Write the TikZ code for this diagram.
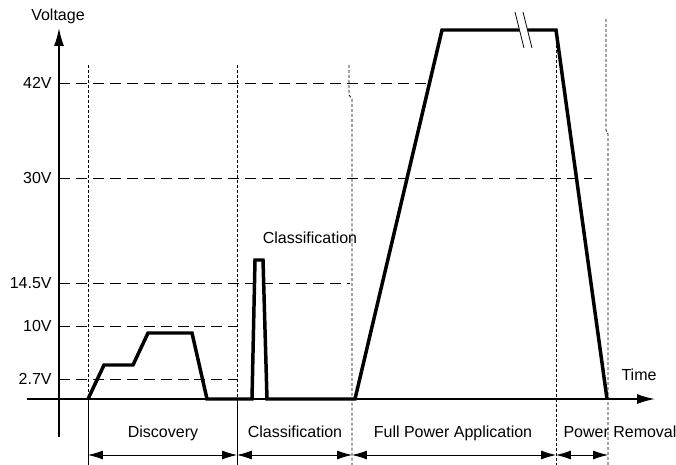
\documentclass[tikz,border=0pt]{standalone}
\usepackage{fontspec}
\setmainfont{Liberation Sans}
\usetikzlibrary{arrows.meta}
\usetikzlibrary{positioning}

\begin{document}
\begin{tikzpicture}[black, line width = 0.8pt, x = 1bp, y = -1bp,
    font = \fontsize{16bp}{19bp}\selectfont,
    level/.style = {dash pattern = on 11pt off 6pt},
    phase/.style = {dash pattern = on 3pt off 2pt, line width = 0.8pt},
    wave/.style = {line width = 3.5pt, line join = miter},
    span/.style = {{Latex[length = 15pt, width = 9pt]}-{Latex[length = 15pt, width = 9pt]}},
    axis/.style = {line width = 1.6pt, -{Latex[length = 18pt, width = 10pt]}},
    label/.style = {anchor = base, inner sep = 0pt}]

    \useasboundingbox (0,0) rectangle (676,465);

    \def\Xaxis{399}
    \def\Yaxis{59}

    % axes
    \coordinate (O) at (\Yaxis,\Xaxis);
    \coordinate (Ybot) at (\Yaxis,437);
    \coordinate (Ytop) at (\Yaxis,28);
    \coordinate (Xleft) at (27,\Xaxis);
    \coordinate (Xright) at (655,\Xaxis);
    \draw[axis] (Ybot) -- (Ytop);
    \draw[axis] (Xleft) -- (Xright);
    \node[label] (voltage) at (58,21) {Voltage};
    \node[label] (time) at (639,380) {Time};

    % voltage levels
    \foreach \name/\lab/\yy/\xend in {l42/42V/83/428, l30/30V/178/592,
            l14/14.5V/283/350, l10/10V/326/237, l3/2.7V/379/237} {
        \node[anchor = base east, inner sep = 0pt] (\name) at (52,\yy+5.5) {\lab};
        \coordinate (\name end) at (\xend,\yy);
        \draw[level] (\Yaxis,\yy) -- (\name end);
    }

    % phases
    \foreach \name/\xx/\ytop in {p0/88/65, p1/237/65, p2/352/65, p3/556/30, p4/608/19} {
        \coordinate (\name top) at (\xx,\ytop);
        \coordinate (\name) at (\xx,\Xaxis);
        \coordinate (\name bot) at (\xx,465);
        \coordinate (\name arr) at (\xx,455);
    }
    \draw[phase] (p0top) -- (p0);
    \draw[phase] (p1top) -- (p1);
    \draw[phase] ([xshift = -3]p2top) -- ++(0,30) -- ++(3,4) -- (p2bot);
    \draw[phase] (p3top) -- (p3bot);
    \draw[phase] ([xshift = -2]p4top) -- ++(0,111) -- ++(2,4) -- (p4bot);
    \draw (p0) -- (p0bot);
    \draw (p1) -- (p1bot);

    \draw[span] (p0arr) -- (p1arr);
    \draw[span] (p1arr) -- (p2arr);
    \draw[span] (p2arr) -- (p3arr);
    \draw[span] (p3arr) -- (p4arr);

    \node[label] (discovery) at (163,437) {Discovery};
    \node[label] (classif) at (295,437) {Classification};
    \node[label] (fullpower) at (453,437) {Full Power Application};
    \node[label] (removal) at (620,437) {Power Removal};
    \node[label] (pulse) at (310,244) {Classification};

    % waveform
    \draw[wave] (p0) -- (104,365) -- (133,365) -- (148,333) -- (192,333)
        -- (207,\Xaxis) -- (252,\Xaxis) -- (255,260) -- (263,260) -- (267,\Xaxis)
        -- (355,\Xaxis) -- (442,30) -- (p3top) -- ([xshift = -1]p4);

    % break
    \fill[white] (518.5,26) -- (526.5,26) -- (528.5,34) -- (520.5,34) -- cycle;
    \draw (515,12) -- (524,48);
    \draw (523,12) -- (532,48);

\end{tikzpicture}
\end{document}
